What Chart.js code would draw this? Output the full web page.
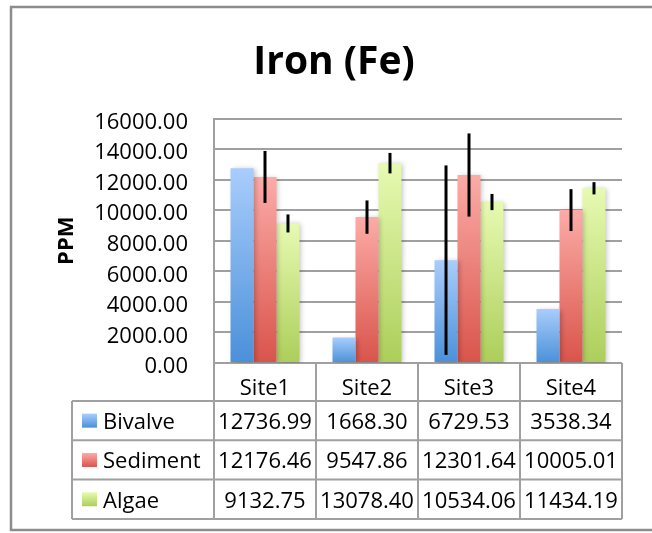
<!DOCTYPE html>
<html>
<head>
<meta charset="utf-8">
<title>Iron (Fe)</title>
<script src="https://cdn.jsdelivr.net/npm/chart.js@4.4.1/dist/chart.umd.min.js"></script>
<style>
  body { margin: 0; background: #fff; }
  canvas { display: block; }
</style>
</head>
<body>
<canvas id="chart" width="652" height="533"></canvas>
<script>
// Sites and measured values (PPM)
const sites = ['Site1', 'Site2', 'Site3', 'Site4'];
const seriesNames = ['Bivalve', 'Sediment', 'Algae'];
const bivalve = [12736.99, 1668.30, 6729.53, 3538.34];
const sediment = [12176.46, 9547.86, 12301.64, 10005.01];
const algae = [9132.75, 13078.40, 10534.06, 11434.19];

// Error bar half lengths (null = no bar shown)
const bivalveErr = [null, null, 6200, null];
const sedimentErr = [1700, 1090, 2720, 1370];
const algaeErr = [590, 670, 530, 400];

// y axis range
const yMin = 0;
const yMax = 16000;
const yStep = 2000;

// top / bottom colours of each series gradient
const seriesColors = [
    ['#a9cdfc', '#4a90d9'],
    ['#fcaba7', '#d9544b'],
    ['#e7fab2', '#acce5a']
];

const FONT = "'Open Sans', sans-serif";
const LINE = '#a0a0a0';

// Gradient for one bar, from its top down to the zero line
function barGradient(top, bottom) {
    return function (context) {
        const chart = context.chart;
        const y = chart.scales.y;
        if (!y || context.type !== 'data') return bottom;
        const y0 = y.getPixelForValue(context.raw);
        const y1 = y.getPixelForValue(0);
        if (!isFinite(y0) || !isFinite(y1) || y0 === y1) return bottom;
        const g = chart.ctx.createLinearGradient(0, y0, 0, y1);
        g.addColorStop(0, top);
        g.addColorStop(1, bottom);
        return g;
    };
}

// White background and the outer chart frame
const chartFrame = {
    id: 'chartFrame',
    beforeDraw(chart) {
        const ctx = chart.ctx;
        ctx.save();
        ctx.fillStyle = '#fff';
        ctx.fillRect(0, 0, chart.width, chart.height);
        ctx.strokeStyle = '#8c8c8c';
        ctx.lineWidth = 2.5;
        ctx.strokeRect(11, 7, chart.width + 20, 523);
        ctx.restore();
    }
};

// Soft shadow under the bars, then black error bars on top
const barExtras = {
    id: 'barExtras',
    beforeDatasetsDraw(chart) {
        const ctx = chart.ctx;
        ctx.save();
        ctx.shadowColor = 'rgba(0, 0, 0, 0.25)';
        ctx.shadowBlur = 5;
        ctx.shadowOffsetX = 2;
        ctx.shadowOffsetY = 1;
    },
    afterDatasetsDraw(chart) {
        const ctx = chart.ctx;
        ctx.restore();
        const y = chart.scales.y;
        ctx.save();
        ctx.strokeStyle = '#000';
        ctx.lineWidth = 3;
        chart.data.datasets.forEach((ds, di) => {
            const meta = chart.getDatasetMeta(di);
            ds.errors.forEach((e, i) => {
                if (e == null) return;
                const bar = meta.data[i];
                ctx.beginPath();
                ctx.moveTo(bar.x, y.getPixelForValue(ds.data[i] + e));
                ctx.lineTo(bar.x, y.getPixelForValue(ds.data[i] - e));
                ctx.stroke();
            });
        });
        ctx.restore();
    }
};

// Excel style data table under the plot (legend keys + values)
const dataTable = {
    id: 'dataTable',
    afterDraw(chart) {
        const ctx = chart.ctx;
        const area = chart.chartArea;
        const colW = (area.right - area.left) / sites.length;
        const headTop = area.bottom;
        const headBottom = 401;
        const rowH = 39.3;
        const tableLeft = 72;
        const tableBottom = headBottom + rowH * seriesNames.length;

        ctx.save();
        ctx.strokeStyle = LINE;
        ctx.lineWidth = 2;

        // vertical lines
        for (let k = 0; k <= sites.length; k++) {
            const x = area.left + k * colW;
            ctx.beginPath();
            ctx.moveTo(x, headTop);
            ctx.lineTo(x, tableBottom);
            ctx.stroke();
        }
        ctx.beginPath();
        ctx.moveTo(tableLeft, headBottom);
        ctx.lineTo(tableLeft, tableBottom);
        ctx.stroke();

        // horizontal lines
        for (let r = 0; r <= seriesNames.length; r++) {
            const y = headBottom + r * rowH;
            ctx.beginPath();
            ctx.moveTo(tableLeft, y);
            ctx.lineTo(area.right, y);
            ctx.stroke();
        }

        ctx.font = '22px ' + FONT;
        ctx.fillStyle = '#000';
        ctx.textBaseline = 'middle';

        chart.data.datasets.forEach((ds, di) => {
            const cy = headBottom + di * rowH + rowH / 2;

            // legend key
            const g = ctx.createLinearGradient(0, cy - 7, 0, cy + 7);
            g.addColorStop(0, seriesColors[di][0]);
            g.addColorStop(1, seriesColors[di][1]);
            ctx.fillStyle = g;
            ctx.fillRect(82, cy - 7, 15, 14);

            ctx.fillStyle = '#000';
            ctx.textAlign = 'left';
            ctx.fillText(ds.label, 103, cy + 2);

            ctx.textAlign = 'center';
            ds.data.forEach((v, i) => {
                ctx.fillText(v.toFixed(2), area.left + colW * (i + 0.5), cy + 2);
            });
        });
        ctx.restore();
    }
};

const errorSets = [bivalveErr, sedimentErr, algaeErr];
const valueSets = [bivalve, sediment, algae];

const datasets = seriesNames.map((name, i) => ({
    label: name,
    data: valueSets[i],
    errors: errorSets[i],
    backgroundColor: barGradient(seriesColors[i][0], seriesColors[i][1]),
    borderWidth: 0,
    barPercentage: 1.0,
    categoryPercentage: 0.676
}));

new Chart(document.getElementById('chart'), {
    type: 'bar',
    data: {
        labels: sites,
        datasets: datasets
    },
    options: {
        responsive: false,
        animation: false,
        layout: {
            padding: { left: 46, right: 30, top: 0, bottom: 0 }
        },
        plugins: {
            legend: { display: false },
            tooltip: { enabled: false },
            title: {
                display: true,
                text: 'Iron (Fe)',
                color: '#000',
                font: { family: FONT, size: 39, weight: 'bold' },
                padding: { top: 39.5, bottom: 32.2 }
            }
        },
        scales: {
            x: {
                grid: { display: false },
                border: { display: false },
                ticks: {
                    color: '#000',
                    font: { family: FONT, size: 22 },
                    padding: 5
                },
                afterFit(scale) {
                    scale.height = 170;
                }
            },
            y: {
                min: yMin,
                max: yMax,
                grid: { color: LINE, lineWidth: 2, drawTicks: false },
                border: { display: true, color: LINE, width: 2 },
                ticks: {
                    stepSize: yStep,
                    padding: 26,
                    labelOffset: 4,
                    color: '#000',
                    font: { family: FONT, size: 22 },
                    callback: (v) => Number(v).toFixed(2)
                },
                title: {
                    display: true,
                    text: 'PPM',
                    color: '#000',
                    font: { family: FONT, size: 22, weight: 'bold' },
                    padding: { top: 8, bottom: 0 }
                },
                afterFit(scale) {
                    scale.width = 168;
                }
            }
        }
    },
    plugins: [chartFrame, barExtras, dataTable]
});
</script>
</body>
</html>
